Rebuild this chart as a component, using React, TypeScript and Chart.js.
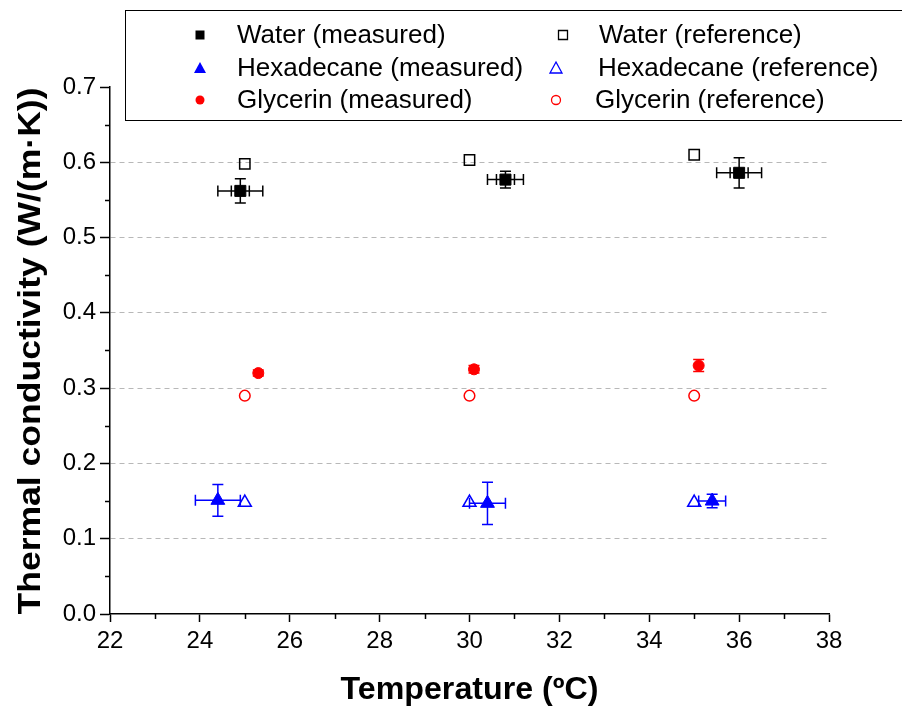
import React, { useEffect, useRef } from "react";
import { Chart, registerables } from "chart.js";

Chart.register(...registerables);

// ---- data ----
const xTicksMin = 22;
const xTicksMax = 38;
const yTicksMin = 0;
const yTicksMax = 0.7;

const waterMeasX = [24.9, 30.8, 36.0];
const waterMeasY = [0.562, 0.577, 0.586];
const waterMeasXErr = [0.5, 0.4, 0.5];
const waterMeasYErr = [0.016, 0.011, 0.02];

const waterRefX = [25, 30, 35];
const waterRefY = [0.598, 0.603, 0.61];

const hexMeasX = [24.4, 30.4, 35.4];
const hexMeasY = [0.151, 0.147, 0.15];
const hexMeasXErr = [0.5, 0.4, 0.3];
const hexMeasYErr = [0.021, 0.028, 0.009];

const hexRefX = [25, 30, 35];
const hexRefY = [0.148, 0.148, 0.148];

const glyMeasX = [25.3, 30.1, 35.1];
const glyMeasY = [0.32, 0.325, 0.33];
const glyMeasXErr = [0, 0, 0];
const glyMeasYErr = [0.004, 0.005, 0.008];

const glyRefX = [25, 30, 35];
const glyRefY = [0.29, 0.29, 0.29];

const legendLabels = [
  "Water (measured)",
  "Water (reference)",
  "Hexadecane (measured)",
  "Hexadecane (reference)",
  "Glycerin (measured)",
  "Glycerin (reference)",
];

const xTitle = "Temperature (ºC)";
const yTitle = "Thermal conductivity (W/(m·K))";

const FONT = "'Liberation Sans', Arial, sans-serif";
const BLACK = "#000000";
const BLUE = "#0000ff";
const RED = "#ff0000";

const pts = (xs: number[], ys: number[]) => xs.map((x, i) => ({ x, y: ys[i] }));

const errorSets: Record<number, { xe: number[]; ye: number[]; color: string; inner?: boolean }> = {
  0: { xe: waterMeasXErr, ye: waterMeasYErr, color: BLACK, inner: true },
  2: { xe: hexMeasXErr, ye: hexMeasYErr, color: BLUE },
  4: { xe: glyMeasXErr, ye: glyMeasYErr, color: RED },
};

const errorBarPlugin = {
  id: "errorBars",
  beforeDatasetsDraw(chart: any) {
    const ctx = chart.ctx;
    const xs = chart.scales.x;
    const ys = chart.scales.y;
    Object.keys(errorSets).forEach((k) => {
      const di = Number(k);
      const set = errorSets[di];
      const ds = chart.data.datasets[di];
      ctx.save();
      ctx.strokeStyle = set.color;
      ctx.lineWidth = 1.5;
      ds.data.forEach((p: any, i: number) => {
        const cx = xs.getPixelForValue(p.x);
        const cy = ys.getPixelForValue(p.y);
        const xe = set.xe[i];
        const ye = set.ye[i];
        ctx.beginPath();
        if (xe > 0) {
          const x1 = xs.getPixelForValue(p.x - xe);
          const x2 = xs.getPixelForValue(p.x + xe);
          ctx.moveTo(x1, cy);
          ctx.lineTo(x2, cy);
          ctx.moveTo(x1, cy - 5.5);
          ctx.lineTo(x1, cy + 5.5);
          ctx.moveTo(x2, cy - 5.5);
          ctx.lineTo(x2, cy + 5.5);
          if (set.inner) {
            ctx.moveTo(cx - 9, cy - 5.5);
            ctx.lineTo(cx - 9, cy + 5.5);
            ctx.moveTo(cx + 9, cy - 5.5);
            ctx.lineTo(cx + 9, cy + 5.5);
          }
        }
        if (ye > 0) {
          const y1 = ys.getPixelForValue(p.y - ye);
          const y2 = ys.getPixelForValue(p.y + ye);
          ctx.moveTo(cx, y1);
          ctx.lineTo(cx, y2);
          ctx.moveTo(cx - 5.5, y1);
          ctx.lineTo(cx + 5.5, y1);
          ctx.moveTo(cx - 5.5, y2);
          ctx.lineTo(cx + 5.5, y2);
        }
        ctx.stroke();
      });
      ctx.restore();
    });
  },
};

function drawMarker(ctx: CanvasRenderingContext2D, kind: string, x: number, y: number, color: string, filled: boolean) {
  ctx.save();
  ctx.fillStyle = color;
  ctx.strokeStyle = color;
  ctx.lineWidth = 1.3;
  ctx.beginPath();
  if (kind === "rect") {
    const s = 4.5;
    ctx.rect(x - s, y - s, 2 * s, 2 * s);
  } else if (kind === "triangle") {
    ctx.moveTo(x, y - 6);
    ctx.lineTo(x + 6, y + 5);
    ctx.lineTo(x - 6, y + 5);
    ctx.closePath();
  } else {
    ctx.arc(x, y, 4.5, 0, Math.PI * 2);
  }
  if (filled) ctx.fill();
  else ctx.stroke();
  ctx.restore();
}

const decorPlugin = {
  id: "decor",
  afterDraw(chart: any) {
    const ctx: CanvasRenderingContext2D = chart.ctx;
    const xs = chart.scales.x;
    const ys = chart.scales.y;
    const area = chart.chartArea;

    // minor ticks
    ctx.save();
    ctx.strokeStyle = BLACK;
    ctx.lineWidth = 1.5;
    ctx.beginPath();
    for (let v = xTicksMin + 1; v < xTicksMax; v += 2) {
      const px = Math.round(xs.getPixelForValue(v)) + 0.5;
      ctx.moveTo(px, area.bottom);
      ctx.lineTo(px, area.bottom + 5);
    }
    for (let k = 0; k < 7; k++) {
      const v = k * 0.1 + 0.05;
      const py = Math.round(ys.getPixelForValue(v)) + 0.5;
      ctx.moveTo(area.left, py);
      ctx.lineTo(area.left - 5, py);
    }
    ctx.stroke();
    ctx.restore();

    // axis titles
    ctx.save();
    ctx.fillStyle = BLACK;
    ctx.font = `bold 31px ${FONT}`;
    ctx.textAlign = "center";
    ctx.textBaseline = "middle";
    const xw = ctx.measureText(xTitle).width;
    ctx.translate((area.left + area.right) / 2, 690);
    ctx.scale(258 / xw, 1);
    ctx.fillText(xTitle, 0, 0);
    ctx.restore();

    ctx.save();
    ctx.fillStyle = BLACK;
    ctx.font = `bold 31px ${FONT}`;
    ctx.textAlign = "center";
    ctx.textBaseline = "middle";
    const yw = ctx.measureText(yTitle).width;
    ctx.translate(31, 351);
    ctx.rotate(-Math.PI / 2);
    ctx.scale(527 / yw, 1);
    ctx.fillText(yTitle, 0, 0);
    ctx.restore();

    // legend box
    ctx.save();
    ctx.fillStyle = "#ffffff";
    ctx.fillRect(125, 10, 790, 110);
    ctx.strokeStyle = BLACK;
    ctx.lineWidth = 1;
    ctx.strokeRect(125.5, 10.5, 790, 110);
    const rowsY = [35, 68, 100];
    const items = [
      { kind: "rect", color: BLACK, filled: true, mx: 200, tx: 237 },
      { kind: "rect", color: BLACK, filled: false, mx: 563, tx: 599 },
      { kind: "triangle", color: BLUE, filled: true, mx: 200, tx: 237 },
      { kind: "triangle", color: BLUE, filled: false, mx: 556, tx: 598 },
      { kind: "circle", color: RED, filled: true, mx: 200, tx: 237 },
      { kind: "circle", color: RED, filled: false, mx: 556, tx: 595 },
    ];
    ctx.font = `26px ${FONT}`;
    ctx.textAlign = "left";
    ctx.textBaseline = "middle";
    items.forEach((it, i) => {
      const y = rowsY[Math.floor(i / 2)];
      drawMarker(ctx, it.kind, it.mx, y, it.color, it.filled);
      ctx.fillStyle = BLACK;
      ctx.fillText(legendLabels[i], it.tx, y + 1);
    });
    ctx.restore();
  },
};

export default function App() {
  const ref = useRef<HTMLCanvasElement | null>(null);

  useEffect(() => {
    if (!ref.current) return;
    const chart = new Chart(ref.current, {
      type: "scatter",
      data: {
        datasets: [
          {
            label: legendLabels[0],
            data: pts(waterMeasX, waterMeasY),
            pointStyle: "rect",
            pointRadius: 7.8,
            backgroundColor: BLACK,
            borderColor: BLACK,
            borderWidth: 1,
          },
          {
            label: legendLabels[1],
            data: pts(waterRefX, waterRefY),
            pointStyle: "rect",
            pointRadius: 7.3,
            backgroundColor: "rgba(0,0,0,0)",
            borderColor: BLACK,
            borderWidth: 1.5,
          },
          {
            label: legendLabels[2],
            data: pts(hexMeasX, hexMeasY),
            pointStyle: "triangle",
            pointRadius: 8,
            backgroundColor: BLUE,
            borderColor: BLUE,
            borderWidth: 1,
          },
          {
            label: legendLabels[3],
            data: pts(hexRefX, hexRefY),
            pointStyle: "triangle",
            pointRadius: 7.5,
            backgroundColor: "rgba(0,0,0,0)",
            borderColor: BLUE,
            borderWidth: 1.5,
          },
          {
            label: legendLabels[4],
            data: pts(glyMeasX, glyMeasY),
            pointStyle: "circle",
            pointRadius: 5.5,
            backgroundColor: RED,
            borderColor: RED,
            borderWidth: 1,
          },
          {
            label: legendLabels[5],
            data: pts(glyRefX, glyRefY),
            pointStyle: "circle",
            pointRadius: 5.3,
            backgroundColor: "rgba(0,0,0,0)",
            borderColor: RED,
            borderWidth: 1.5,
          },
        ],
      },
      options: {
        animation: false,
        responsive: false,
        devicePixelRatio: 1,
        layout: { padding: { top: 87, right: 73, left: 0, bottom: 0 } },
        plugins: {
          legend: { display: false },
          tooltip: { enabled: false },
        },
        scales: {
          x: {
            type: "linear",
            min: xTicksMin,
            max: xTicksMax,
            ticks: {
              stepSize: 2,
              color: BLACK,
              font: { family: FONT, size: 24 },
              padding: 5,
              maxRotation: 0,
            },
            grid: {
              drawOnChartArea: false,
              drawTicks: true,
              tickLength: 8,
              tickColor: BLACK,
              tickWidth: 1.5,
            },
            border: { color: BLACK, width: 1.5 },
            afterFit: (s: any) => {
              s.height = 93;
            },
          },
          y: {
            type: "linear",
            min: yTicksMin,
            max: yTicksMax,
            ticks: {
              stepSize: 0.1,
              color: BLACK,
              font: { family: FONT, size: 24 },
              padding: 4,
              callback: (v: any) => Number(v).toFixed(1),
            },
            grid: {
              drawOnChartArea: true,
              drawTicks: true,
              tickLength: 10,
              tickColor: BLACK,
              tickWidth: 1.5,
              lineWidth: 1,
              color: (c: any) => {
                const v = c.tick ? Math.round(c.tick.value * 10) : -1;
                return v <= 0 || v >= 7 ? "rgba(0,0,0,0)" : "#b8b8b8";
              },
            },
            border: { color: BLACK, width: 1.5, dash: [5, 4] },
            afterFit: (s: any) => {
              s.width = 110;
            },
          },
        },
      },
      plugins: [errorBarPlugin, decorPlugin],
    } as any);
    return () => chart.destroy();
  }, []);

  return (
    <div style={{ position: "absolute", left: 0, top: 0, width: 902, height: 707, background: "#ffffff" }}>
      <canvas ref={ref} width={902} height={707} style={{ display: "block", width: 902, height: 707 }} />
    </div>
  );
}
